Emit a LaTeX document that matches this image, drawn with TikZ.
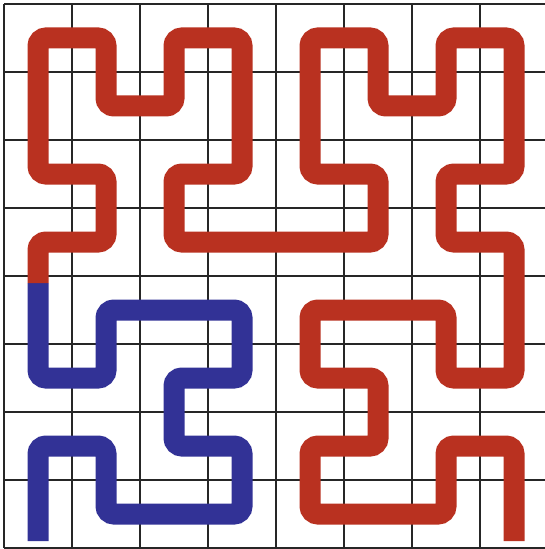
\documentclass[tikz,border=0pt]{standalone}
\definecolor{curvered}{RGB}{185,49,32}
\definecolor{curveblue}{RGB}{50,50,150}
\tikzset{
  gridline/.style={line width=1.4pt, draw=black!85},
  curve/.style={line width=15.75pt, rounded corners=6pt, line cap=butt}
}
\begin{document}
\begin{tikzpicture}[x=0.75pt,y=-0.75pt]
\useasboundingbox (0,0) rectangle (545,549);
\begin{scope}
\clip (0,0) rectangle (545,549);
\foreach \k in {0,...,8} {
  \draw[gridline] ({4+68*\k},4) -- ({4+68*\k},548);
  \draw[gridline] (4,{4+68*\k}) -- (548,{4+68*\k});
}
\end{scope}
% coordinates
\coordinate (bstart) at (38,541);
\coordinate (mid) at (38,283);
\coordinate (rend) at (514,541);
% blue part
\draw[curve, draw=curveblue] (bstart) -- (38,446) -- (106,446) -- (106,514) -- (242,514) -- (242,446) -- (174,446) -- (174,378) -- (242,378) -- (242,310) -- (106,310) -- (106,378) -- (38,378) -- (mid);
% red part
\draw[curve, draw=curvered] (mid) -- (38,242) -- (106,242) -- (106,174) -- (38,174) -- (38,38) -- (106,38) -- (106,106) -- (174,106) -- (174,38) -- (242,38) -- (242,174) -- (174,174) -- (174,242) -- (378,242) -- (378,174) -- (310,174) -- (310,38) -- (378,38) -- (378,106) -- (446,106) -- (446,38) -- (514,38) -- (514,174) -- (446,174) -- (446,242) -- (514,242) -- (514,378) -- (446,378) -- (446,310) -- (310,310) -- (310,378) -- (378,378) -- (378,446) -- (310,446) -- (310,514) -- (446,514) -- (446,446) -- (514,446) -- (rend);
\end{tikzpicture}
\end{document}
